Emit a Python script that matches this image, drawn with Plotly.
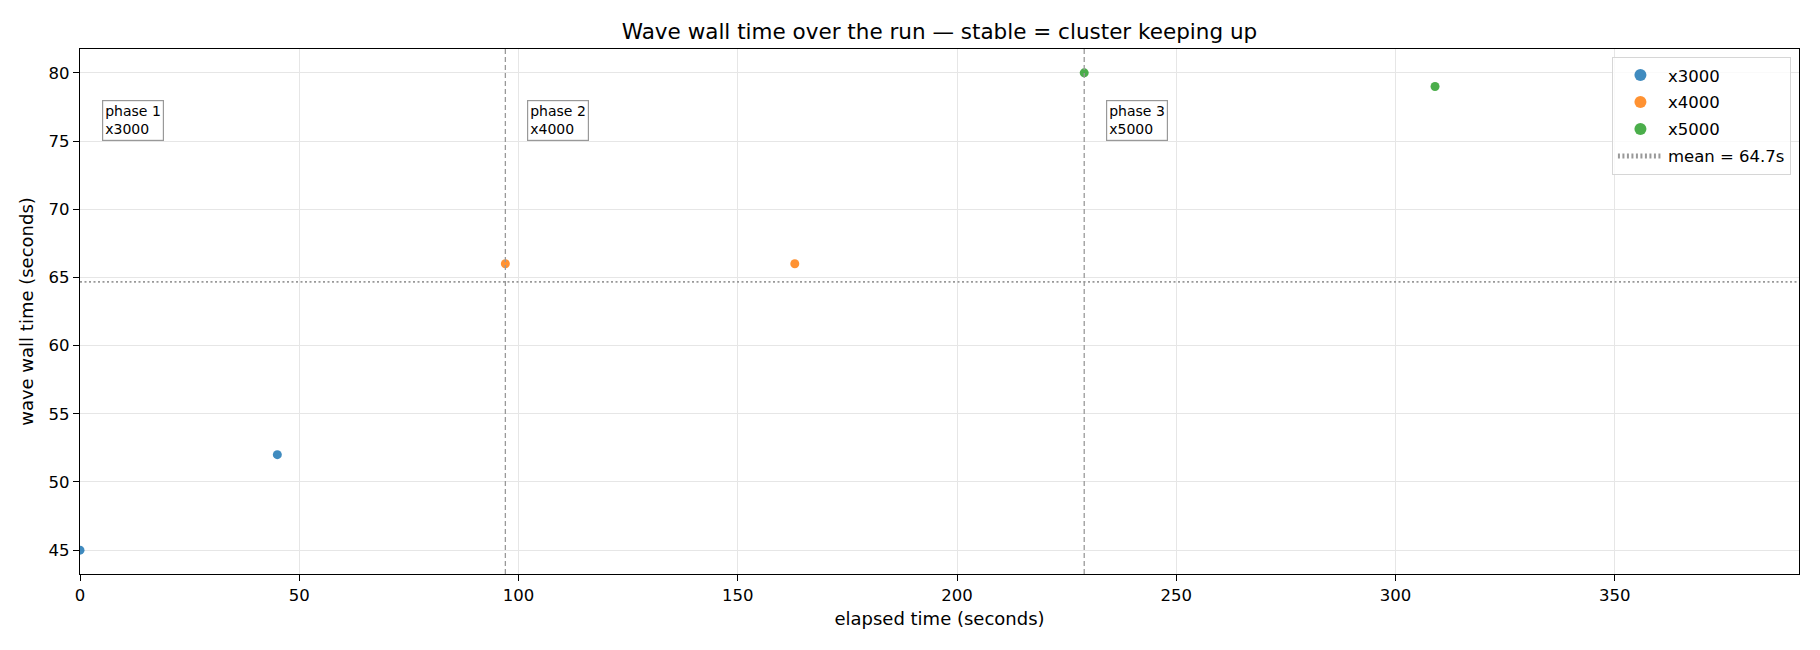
import plotly.graph_objects as go

# wave measurements per phase
phase_names = ["x3000", "x4000", "x5000"]
phase_elapsed = [[0, 45], [97, 163], [229, 309]]
phase_wall = [[45, 52], [66, 66], [80, 79]]
phase_starts = [0, 97, 229]
phase_labels = ["phase 1<br>x3000", "phase 2<br>x4000", "phase 3<br>x5000"]
colors = ["#1f77b4", "#ff7f0e", "#2ca02c"]

x_max = 392
y_range = [43.25, 81.75]

all_wall = [v for grp in phase_wall for v in grp]
mean_wall = sum(all_wall) / len(all_wall)

fig = go.Figure()

for name, xs, ys, c in zip(phase_names, phase_elapsed, phase_wall, colors):
    fig.add_trace(go.Scatter(
        x=xs, y=ys, mode="markers", name=name, legendgroup=name,
        marker=dict(color=c, size=9, opacity=0.85, line=dict(width=0)),
    ))

# phase boundaries (first phase starts at 0, no line)
for s in phase_starts[1:]:
    fig.add_vline(x=s, line=dict(color="#999999", width=1.3, dash="5px,3px"))

for s, lab in zip(phase_starts, phase_labels):
    fig.add_annotation(
        x=s + 5, xref="x", y=0.902, yref="y domain",
        text=lab, showarrow=False, xanchor="left", yanchor="top", align="left",
        font=dict(family="DejaVu Sans", size=14, color="black"),
        bgcolor="white", bordercolor="#999999", borderwidth=1.2, borderpad=2,
    )

fig.add_hline(
    y=mean_wall, line=dict(color="#999999", width=1.8, dash="2px,2.5px"),
    showlegend=True, name=f"mean = {mean_wall:.1f}s", legendgroup="mean",
)

fig.update_layout(
    width=1812, height=642,
    margin=dict(l=72, r=21, t=41, b=76),
    paper_bgcolor="white", plot_bgcolor="white",
    font=dict(family="DejaVu Sans", size=16, color="black"),
    title=dict(
        text="Wave wall time over the run — stable = cluster keeping up",
        xref="paper", x=0.5, xanchor="center", y=0.964, yanchor="middle",
        font=dict(size=21.5),
    ),
    legend=dict(
        x=0.9953, xanchor="right", y=0.985, yanchor="top",
        bgcolor="rgba(255,255,255,0.8)", bordercolor="#d6d6d6", borderwidth=1,
        font=dict(size=16.5), itemsizing="constant", itemwidth=45,
        tracegroupgap=2.5,
    ),
    showlegend=True,
)

axis_common = dict(
    showline=True, linecolor="black", linewidth=1.3, mirror=True,
    ticks="outside", ticklen=6, tickcolor="black", tickwidth=1.2,
    showgrid=True, gridcolor="#e6e6e6", gridwidth=1, zeroline=False,
    tickfont=dict(size=16.5),
)
fig.update_xaxes(
    range=[0, x_max], tickmode="linear", tick0=0, dtick=50,
    title=dict(text="elapsed time (seconds)", font=dict(size=18), standoff=8),
    **axis_common,
)
fig.update_yaxes(
    range=y_range, tickmode="linear", tick0=45, dtick=5,
    title=dict(text="wave wall time (seconds)", font=dict(size=18), standoff=10),
    **axis_common,
)

fig.write_html("out.html")
